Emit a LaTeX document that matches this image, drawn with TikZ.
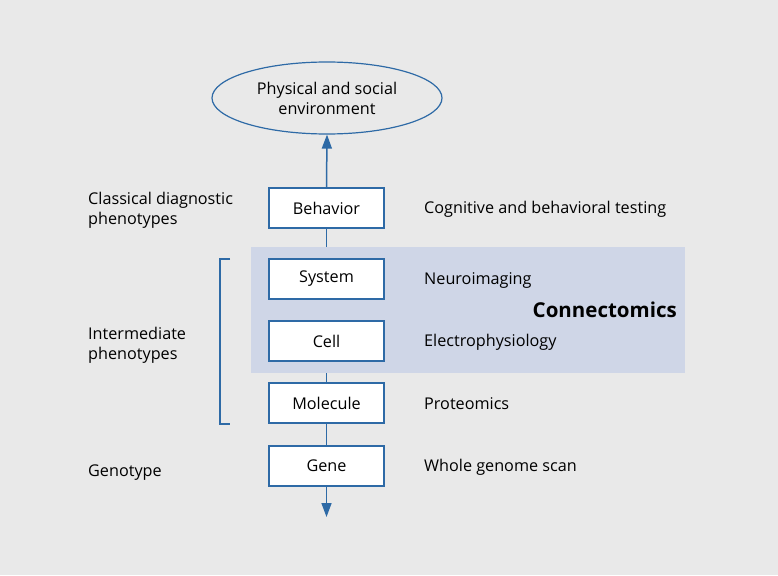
\documentclass[tikz,border=0pt]{standalone}
\usepackage{fontspec}
\setmainfont{Open Sans}
\usetikzlibrary{arrows.meta,shapes.geometric}
\definecolor{bgcol}{HTML}{E9E9E9}
\definecolor{conncol}{HTML}{CFD6E7}
\definecolor{lineblue}{HTML}{2E6AA6}
\tikzset{
  lvl/.style={draw=lineblue, line width=1.2pt, fill=white, minimum width=115pt, minimum height=40pt, inner sep=0pt, font=\fontsize{16.2}{20}\selectfont},
  lab/.style={anchor=west, inner sep=0pt, font=\fontsize{16.2}{20}\selectfont, align=left},
  conn/.style={draw=lineblue, line width=1.5pt},
  bigarrow/.style={-{Triangle[length=14pt,width=10pt]}}
}
\begin{document}
\begin{tikzpicture}[x=1pt,y=-1pt]
\fill[bgcol] (0,0) rectangle (778,575);
\useasboundingbox (0,0) rectangle (778,575);
% nodes
\node[ellipse, draw=lineblue, line width=1.2pt, minimum width=230pt, minimum height=72pt, inner sep=0pt, align=center, font=\fontsize{16.2}{20}\selectfont] (env) at (327,98) {Physical and social\\environment};
\node[lvl] (beh) at (326.5,208) {Behavior};
\node[lvl] (mol) at (326.5,403) {Molecule};
\node[lvl] (gene) at (326.5,466) {Gene};
\coordinate (end) at (326.5,517);
% connectors
\draw[conn, bigarrow] (beh.north) -- (env.south);
\draw[conn] (beh.south) -- (mol.north);
\draw[conn] (mol.south) -- (gene.north);
\draw[conn, bigarrow] (gene.south) -- (end);
% shaded region
\fill[conncol] (251,247) rectangle (685,373);
\node[lvl] (sys) at (326.5,279) {System};
\node[lvl] (cell) at (326.5,341) {Cell};
% bracket
\coordinate (bt) at (230,259);
\coordinate (bb) at (230,424);
\draw[draw=lineblue, line width=1.2pt] (bt) -- ++(-10,0) |- (bb);
% left labels
\node[lab] (l1) at (88,210) {Classical diagnostic\\phenotypes};
\node[lab] (l2) at (88,345) {Intermediate\\phenotypes};
\node[lab] (l3) at (88,473) {Genotype};
% right labels
\node[lab] (r1) at (424,209) {Cognitive and behavioral testing};
\node[lab] (r2) at (424,280) {Neuroimaging};
\node[lab] (r3) at (424,342) {Electrophysiology};
\node[lab] (r4) at (424,404) {Proteomics};
\node[lab] (r5) at (424,467) {Whole genome scan};
\node[anchor=east, inner sep=0pt, font=\fontsize{20.5}{24}\selectfont\bfseries] (con) at (677,310) {Connectomics};
\end{tikzpicture}
\end{document}
